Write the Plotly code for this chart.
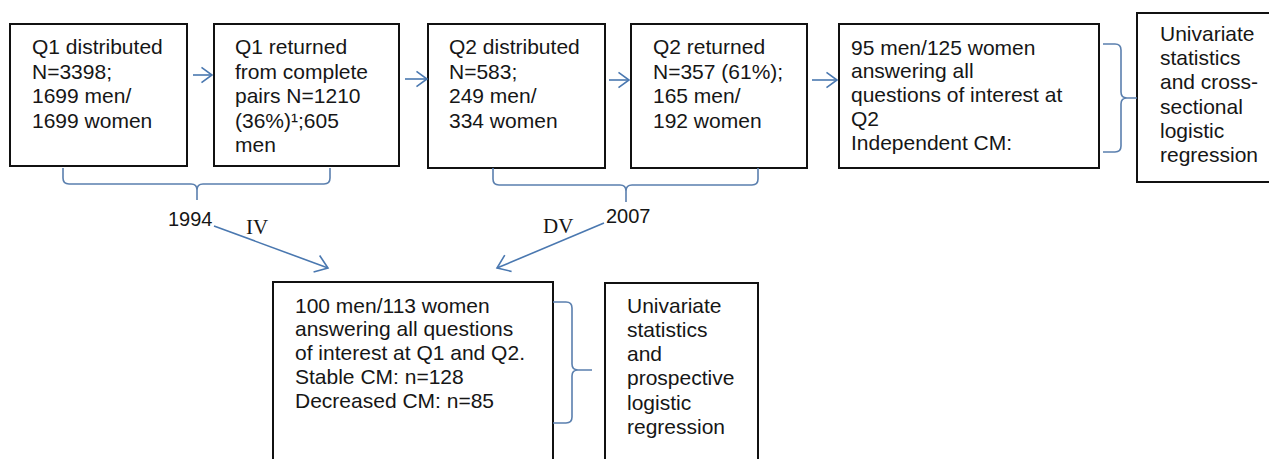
import math
import plotly.graph_objects as go

W, H = 1277, 459
PAGE_OFF = 8  # default body margin of the html page

# ---- content ----
box_q1_dist = ["Q1 distributed", "N=3398;", "1699 men/", "1699 women"]
box_q1_ret = ["Q1 returned", "from complete", "pairs N=1210", "(36%)\u00b9;605", "men"]
box_q2_dist = ["Q2 distributed", "N=583;", "249 men/", "334 women"]
box_q2_ret = ["Q2 returned", "N=357 (61%);", "165 men/", "192 women"]
box_cross = ["95 men/125 women", "answering all", "questions of interest at", "Q2", "Independent CM:"]
box_cross_stats = ["Univariate", "statistics", "and cross-", "sectional", "logistic", "regression"]
box_prosp = ["100 men/113 women", "answering all questions", "of interest at Q1 and Q2.",
             "Stable CM: n=128", "Decreased CM: n=85"]
box_prosp_stats = ["Univariate", "statistics", "and", "prospective", "logistic", "regression"]
year_labels = ["1994", "2007"]
var_labels = ["IV", "DV"]

# ---- layout (pixel geometry) ----
boxes = [
    # (x0, y0, x1, y1, text_x, first_line_y, line_step, lines)
    (10, 24, 187, 166, 30, 46.5, 24.5, box_q1_dist),
    (214, 24, 399, 166, 233, 46.5, 24.5, box_q1_ret),
    (428, 24, 605, 168, 447, 46.5, 24.5, box_q2_dist),
    (631, 24, 807, 168, 651, 46.5, 24.5, box_q2_ret),
    (839, 24, 1099, 168, 849, 47, 23.9, box_cross),
    (1137, 13, 1290, 182, 1158, 33.5, 24.2, box_cross_stats),
    (273, 282, 553, 480, 293, 305, 23.8, box_prosp),
    (605, 283, 758, 480, 625, 305, 24.3, box_prosp_stats),
]

ARROW_C = "#4a78b0"
BRACE_C = "#5a7fae"
TEXT_C = "#161616"
FONT = "Liberation Sans, Arial, sans-serif"

fig = go.Figure()
shapes = []
annotations = []

for x0, y0, x1, y1, tx, ty, dy, lines in boxes:
    shapes.append(dict(type="rect", xref="x", yref="y", x0=x0, y0=y0, x1=x1, y1=y1,
                       line=dict(color="#111111", width=2), fillcolor="rgba(0,0,0,0)"))
    for i, t in enumerate(lines):
        annotations.append(dict(x=tx, y=ty + i * dy, xref="x", yref="y", text=t,
                                showarrow=False, xanchor="left", yanchor="middle",
                                font=dict(family=FONT, size=21, color=TEXT_C)))


def arrow(xa, ya, xb, yb, head=13, ang=36):
    shapes.append(dict(type="line", xref="x", yref="y", x0=xa, y0=ya, x1=xb, y1=yb,
                       line=dict(color=ARROW_C, width=1.6)))
    th = math.atan2(yb - ya, xb - xa)
    pts = []
    for s in (-1, 1):
        a = th + math.pi + s * math.radians(ang)
        pts.append((xb + head * math.cos(a), yb + head * math.sin(a)))
    path = f"M {pts[0][0]:.2f},{pts[0][1]:.2f} L {xb},{yb} L {pts[1][0]:.2f},{pts[1][1]:.2f}"
    shapes.append(dict(type="path", xref="x", yref="y", path=path,
                       line=dict(color=ARROW_C, width=1.6)))


arrow(193, 75, 212, 75)
arrow(405, 79, 427, 79)
arrow(609, 80, 629, 80)
arrow(812, 80, 837, 80)
arrow(214, 226, 328, 268, head=15)
arrow(604, 223, 497, 268, head=15)


def hbrace(xl, xr, ytop, ybar, xc, ytip, r=6):
    return (f"M {xl},{ytop} L {xl},{ybar - r} Q {xl},{ybar} {xl + r},{ybar} "
            f"L {xc - r},{ybar} Q {xc},{ybar} {xc},{ybar + r} L {xc},{ytip} "
            f"M {xc},{ybar + r} Q {xc},{ybar} {xc + r},{ybar} "
            f"L {xr - r},{ybar} Q {xr},{ybar} {xr},{ybar - r} L {xr},{ytop}")


def vbrace(xl, xbar, ytop, ybot, yc, xtip, r=6):
    return (f"M {xl},{ytop} L {xbar - r},{ytop} Q {xbar},{ytop} {xbar},{ytop + r} "
            f"L {xbar},{yc - r} Q {xbar},{yc} {xbar + r},{yc} L {xtip},{yc} "
            f"M {xbar + r},{yc} Q {xbar},{yc} {xbar},{yc + r} "
            f"L {xbar},{ybot - r} Q {xbar},{ybot} {xbar - r},{ybot} L {xl},{ybot}")


for p in [hbrace(63, 330, 168, 184, 197, 200),
          hbrace(493, 758, 168, 185, 626, 202),
          vbrace(1103, 1121, 44, 152, 98, 1137),
          vbrace(553, 572, 302, 423, 370, 592)]:
    shapes.append(dict(type="path", xref="x", yref="y", path=p,
                       line=dict(color=BRACE_C, width=1.6)))

# year labels and variable labels
for txt, x, y in zip(year_labels, [190, 628], [219, 216]):
    annotations.append(dict(x=x, y=y, xref="x", yref="y", text=txt, showarrow=False,
                            xanchor="center", yanchor="middle",
                            font=dict(family=FONT, size=20, color=TEXT_C)))
for txt, x, y in zip(var_labels, [257, 558], [227, 226]):
    annotations.append(dict(x=x, y=y, xref="x", yref="y", text=txt, showarrow=False,
                            xanchor="center", yanchor="middle",
                            font=dict(family="Liberation Serif, Times New Roman, serif",
                                      size=21, color=TEXT_C)))

fig.update_layout(
    width=W - PAGE_OFF, height=H - PAGE_OFF, margin=dict(l=0, r=0, t=0, b=0),
    paper_bgcolor="white", plot_bgcolor="white",
    xaxis=dict(range=[PAGE_OFF, W], visible=False, fixedrange=True),
    yaxis=dict(range=[H, PAGE_OFF], visible=False, fixedrange=True),
    shapes=shapes, annotations=annotations, showlegend=False,
)

fig.write_html("out.html", config={"displayModeBar": False})
